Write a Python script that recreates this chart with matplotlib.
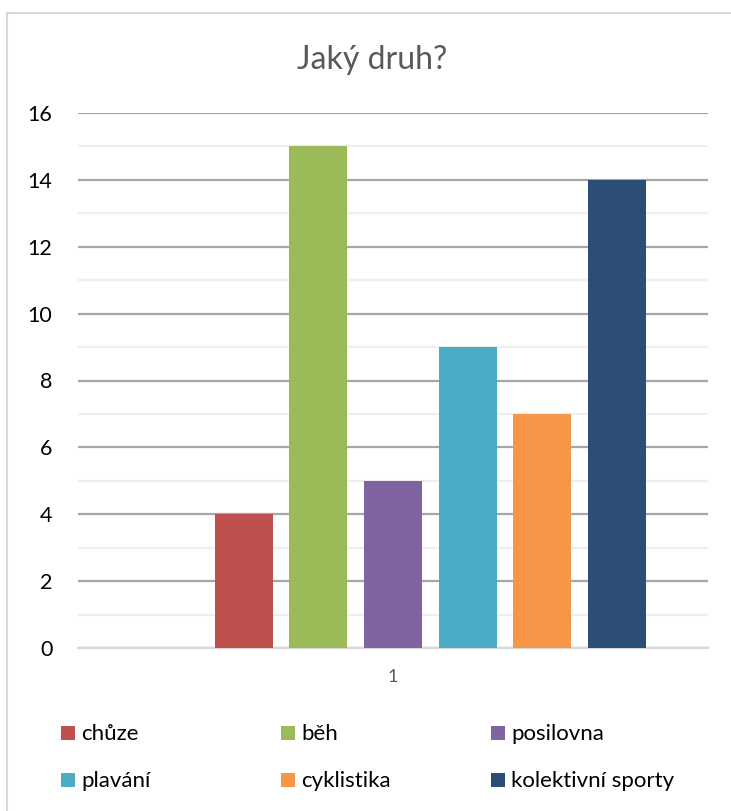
import matplotlib
matplotlib.use("Agg")
import matplotlib.pyplot as plt
from matplotlib.patches import Rectangle
import numpy as np

plt.rcParams['font.family'] = ['Lato', 'DejaVu Sans']

title = "Jaký druh?"
categories = ["1"]
# first series is hidden (no legend entry, no value)
series_names = ["", "chůze", "běh", "posilovna", "plavání", "cyklistika", "kolektivní sporty"]
series_values = [0, 4, 15, 5, 9, 7, 14]
series_colors = ["#4F81BD", "#C0504D", "#9BBB59", "#8064A2", "#4BACC6", "#F79646", "#2C4D75"]
yticks = [0, 2, 4, 6, 8, 10, 12, 14, 16]

fig = plt.figure(figsize=(7.31, 8.11), dpi=100)
fig.patch.set_facecolor("white")

# chart border
fig.patches.append(Rectangle((7/731, -0.05), 1.2, 1 - 13/811 + 0.05, transform=fig.transFigure,
                             fill=False, edgecolor="#D9D9D9", linewidth=1.5, zorder=0))

ax = fig.add_axes([78/731, 1 - 648/811, 630/731, (648 - 113)/811])
n = len(series_values)
stride = 0.1183
width = 0.092
x0 = np.arange(len(categories))
for i, (name, val, col) in enumerate(zip(series_names, series_values, series_colors)):
    off = (i - (n - 1) / 2) * stride
    ax.bar(x0 + off, [val], width=width, color=col, zorder=3)

ax.set_xlim(-0.5, 0.5)
ax.set_ylim(0, 16)
ax.set_yticks(yticks)
ax.set_yticks(np.arange(1, 16, 2), minor=True)
ax.set_xticks(x0)
ax.set_xticklabels(categories)
ax.grid(axis='y', which='major', color="#A6A6A6", linewidth=1.6, zorder=1)
ax.grid(axis='y', which='minor', color="#EFEFEF", linewidth=1.6, zorder=1)
for s in ["left", "right", "top"]:
    ax.spines[s].set_visible(False)
ax.spines["bottom"].set_color("#D9D9D9")
ax.spines["bottom"].set_linewidth(1.6)
ax.tick_params(axis='y', which='both', length=0, pad=18.5, labelsize=15.5, labelcolor="#000000")
ax.tick_params(axis='x', length=0, pad=15, labelsize=13, labelcolor="#595959")

fig.text(372/731, 1 - 60/811, title, ha="center", va="center",
         fontsize=23, color="#595959")

# legend (3 evenly spaced columns, 2 rows)
col_x = [61, 281, 491]
row_y = [733, 780]
k = 0
for i, name in enumerate(series_names):
    if not name:
        continue
    r, c = divmod(k, 3)
    px = col_x[c]
    py = row_y[r]
    fig.patches.append(Rectangle((px/731, 1 - (py + 7)/811), 14/731, 14/811,
                                 transform=fig.transFigure, facecolor=series_colors[i],
                                 edgecolor="none"))
    fig.text((px + 20)/731, 1 - (py + 1)/811, name, ha="left", va="center",
             fontsize=16, color="#000000")
    k += 1

fig.savefig("out.png", dpi=100)
